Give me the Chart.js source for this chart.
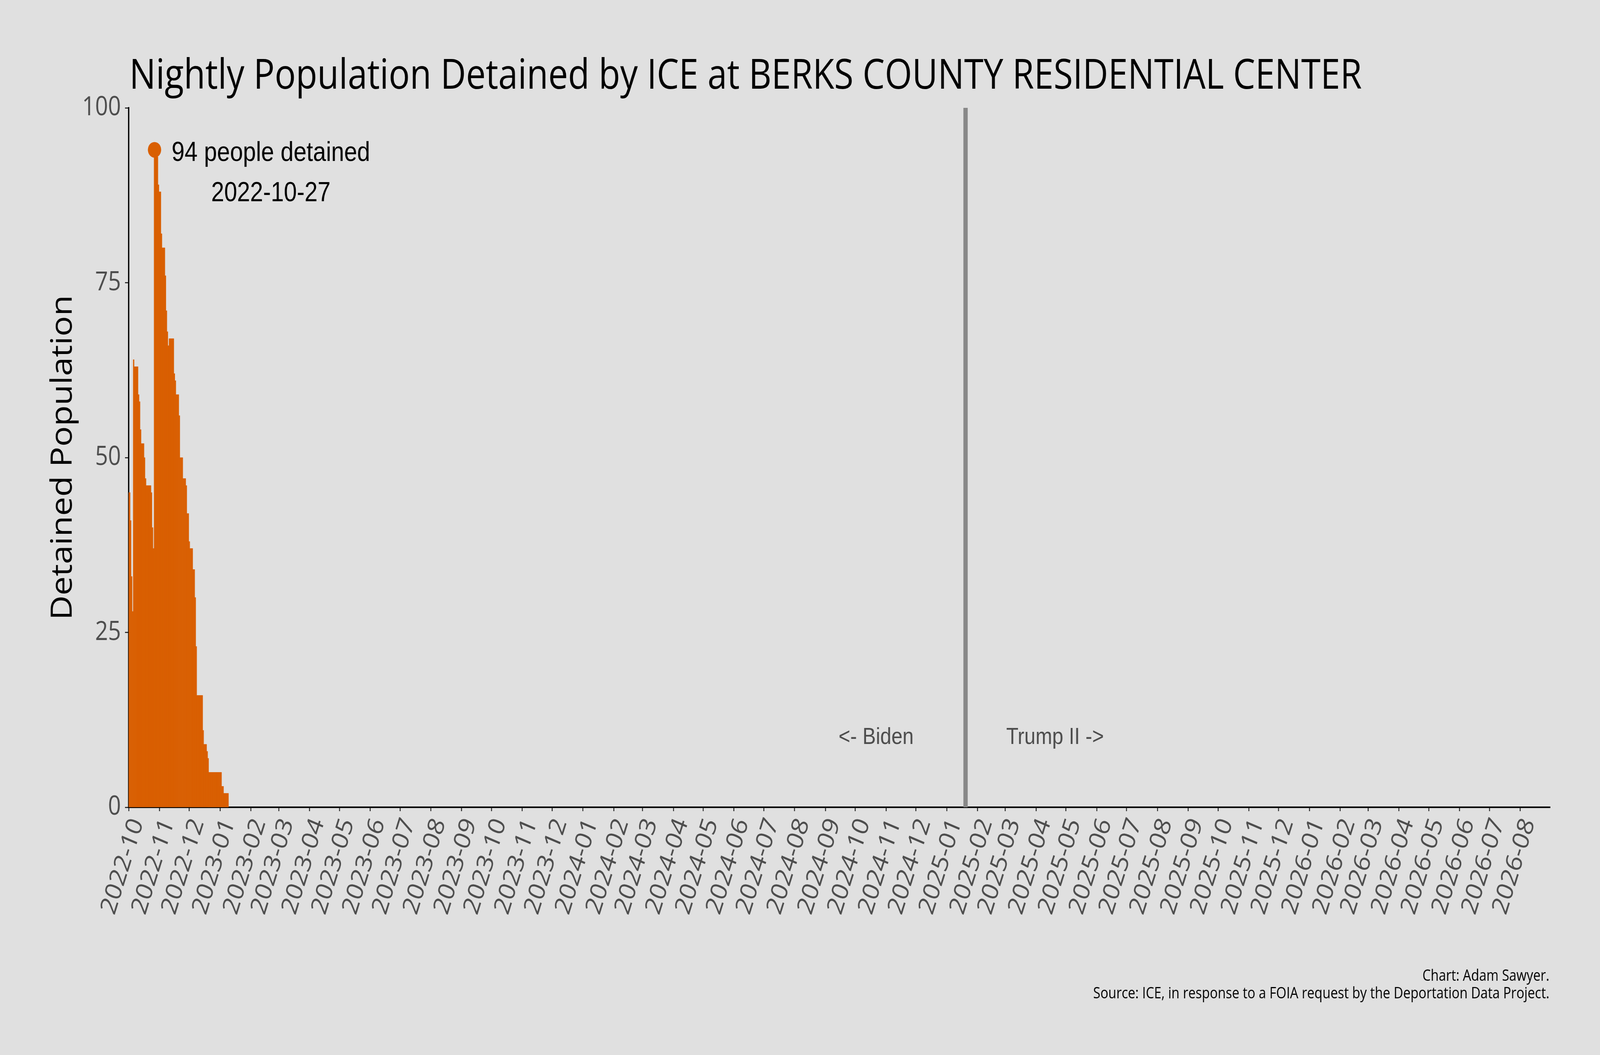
<!DOCTYPE html>
<html>
<head>
<meta charset="utf-8">
<title>Berks County Residential Center</title>
<script src="https://cdn.jsdelivr.net/npm/chart.js@4.4.1/dist/chart.umd.min.js"></script>
<style>
  html, body { margin: 0; padding: 0; background: #e0e0e0; overflow: hidden; }
  #chart { display: block; width: 100vw; height: 100vh; }
</style>
</head>
<body>
<canvas id="chart" width="4800" height="2700" style="width:100vw;height:100vh"></canvas>
<script>
// first night in the series, every value after it is one night later
const startDate = "2022-10-01";
const axisEndDate = "2026-08-31";
const inaugurationDate = "2025-01-20";

const detained = [
  45, 45, 41, 33, 28, 64, 63, 63, 63, 63,
  59, 58, 54, 52, 52, 52, 50, 47, 46, 46,
  46, 46, 46, 45, 40, 37, 94, 94, 93, 93,
  89, 88, 88, 82, 80, 80, 80, 76, 71, 68,
  66, 67, 67, 67, 67, 67, 62, 61, 59, 59,
  59, 56, 50, 50, 50, 47, 47, 47, 46, 42,
  42, 38, 37, 37, 37, 34, 34, 30, 23, 16,
  16, 16, 16, 16, 16, 11, 9, 9, 9, 8,
  7, 5, 5, 5, 5, 5, 5, 5, 5, 5,
  5, 5, 5, 5, 3, 3, 2, 2, 2, 2,
  2
];

const monthLabels = [
  "2022-10", "2022-11", "2022-12",
  "2023-01", "2023-02", "2023-03", "2023-04", "2023-05", "2023-06",
  "2023-07", "2023-08", "2023-09", "2023-10", "2023-11", "2023-12",
  "2024-01", "2024-02", "2024-03", "2024-04", "2024-05", "2024-06",
  "2024-07", "2024-08", "2024-09", "2024-10", "2024-11", "2024-12",
  "2025-01", "2025-02", "2025-03", "2025-04", "2025-05", "2025-06",
  "2025-07", "2025-08", "2025-09", "2025-10", "2025-11", "2025-12",
  "2026-01", "2026-02", "2026-03", "2026-04", "2026-05", "2026-06",
  "2026-07", "2026-08"
];

const yTicks = [0, 25, 50, 75, 100];

const peakCount = 94;
const peakDate = "2022-10-27";

const eraLabels = ["<- Biden", "Trump II ->"];
const eraLabelDays = [-90, 90];   // days from inauguration
const eraLabelLevel = 10;

const titleText = "Nightly Population Detained by ICE at BERKS COUNTY RESIDENTIAL CENTER";
const captionLines = [
  "Chart: Adam Sawyer.",
  "Source: ICE, in response to a FOIA request by the Deportation Data Project."
];

const orange = "#d95f02";
const greyText = "#4d4d4d";

function dayOffset(dateStr) {
  return Math.round((Date.parse(dateStr) - Date.parse(startDate)) / 86400000);
}

const monthTicks = monthLabels.map(m => dayOffset(m + "-01"));
const barData = detained.map((v, i) => ({ x: i, y: v }));
const peakPoint = { x: dayOffset(peakDate), y: peakCount };
const inaugDay = dayOffset(inaugurationDate);

function fitSize(ctx, text, family, targetWidth) {
  ctx.font = '100px "' + family + '"';
  return 100 * targetWidth / ctx.measureText(text).width;
}

const extras = {
  id: "extras",
  beforeDatasetsDraw(chart) {
    const ctx = chart.ctx;
    const area = chart.chartArea;
    const x = chart.scales.x.getPixelForValue(inaugDay);
    ctx.save();
    ctx.strokeStyle = "#888888";
    ctx.lineWidth = 13;
    ctx.beginPath();
    ctx.moveTo(x, area.top);
    ctx.lineTo(x, area.bottom);
    ctx.stroke();
    ctx.restore();
  },
  afterDraw(chart) {
    const ctx = chart.ctx;
    const xs = chart.scales.x;
    const ys = chart.scales.y;
    ctx.save();

    // title
    let size = fitSize(ctx, titleText, "Open Sans", 3698);
    ctx.font = size + 'px "Open Sans"';
    ctx.fillStyle = "#000";
    ctx.textAlign = "left";
    ctx.textBaseline = "alphabetic";
    ctx.fillText(titleText, 388, 227);

    // caption
    size = fitSize(ctx, captionLines[1], "Open Sans", 1369);
    ctx.font = size + 'px "Open Sans"';
    ctx.textAlign = "right";
    ctx.fillText(captionLines[0], 4648, 2510);
    ctx.fillText(captionLines[1], 4648, 2555);

    // peak annotation
    const px = xs.getPixelForValue(peakPoint.x);
    const py = ys.getPixelForValue(peakPoint.y);
    ctx.font = '70px "Liberation Sans"';
    ctx.textAlign = "center";
    ctx.fillText(peakCount + " people detained", px + 349, py + 29);
    ctx.fillText(peakDate, px + 349, py + 132);

    // era labels
    ctx.font = '60px "Liberation Sans"';
    ctx.fillStyle = greyText;
    ctx.textBaseline = "middle";
    eraLabels.forEach((t, i) => {
      ctx.fillText(t, xs.getPixelForValue(inaugDay + eraLabelDays[i]), ys.getPixelForValue(eraLabelLevel));
    });
    ctx.restore();
  }
};

new Chart(document.getElementById("chart"), {
  type: "bar",
  data: {
    datasets: [
      {
        type: "line",
        data: [peakPoint],
        showLine: false,
        pointRadius: 20,
        pointHoverRadius: 20,
        pointBackgroundColor: orange,
        pointBorderWidth: 0,
        order: 0
      },
      {
        data: barData,
        backgroundColor: orange,
        borderWidth: 0,
        barPercentage: 1,
        categoryPercentage: 1,
        grouped: false,
        order: 1
      }
    ]
  },
  options: {
    responsive: false,
    animation: false,
    devicePixelRatio: 1,
    layout: { padding: { top: 276, right: 150, left: 0, bottom: 0 } },
    plugins: {
      legend: { display: false },
      tooltip: { enabled: false },
      title: { display: false }
    },
    scales: {
      x: {
        type: "linear",
        min: 0,
        max: dayOffset(axisEndDate),
        offset: false,
        grid: { drawOnChartArea: false, offset: false, tickLength: 10, tickWidth: 3, tickColor: "#333333" },
        border: { color: "#000000", width: 4 },
        afterBuildTicks: s => { s.ticks = monthTicks.map(v => ({ value: v })); },
        afterFit: s => { s.height = 634; },
        ticks: {
          autoSkip: false,
          minRotation: 70,
          maxRotation: 70,
          padding: 8,
          labelOffset: 26,
          color: greyText,
          font: { family: "Open Sans", size: 68 },
          callback: v => monthLabels[monthTicks.indexOf(v)]
        }
      },
      y: {
        min: 0,
        max: 100,
        grid: { drawOnChartArea: false, tickLength: 11, tickWidth: 3, tickColor: "#333333" },
        border: { color: "#000000", width: 4 },
        afterBuildTicks: s => { s.ticks = yTicks.map(v => ({ value: v })); },
        afterFit: s => { s.width = 386; },
        ticks: {
          padding: 12,
          color: greyText,
          font: { family: "Open Sans", size: 68 }
        },
        title: {
          display: true,
          text: "Detained Population",
          color: "#000000",
          font: { family: "Open Sans", size: 87 },
          padding: { top: 138, bottom: 0 }
        }
      }
    }
  },
  plugins: [extras]
});
</script>
</body>
</html>
